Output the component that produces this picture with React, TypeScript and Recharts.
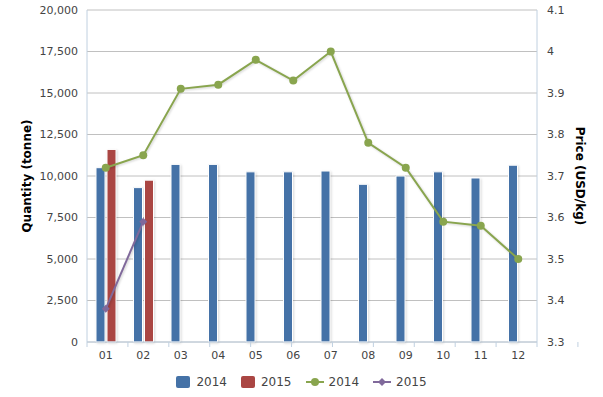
import { ComposedChart, Bar, Line, XAxis, YAxis, CartesianGrid, Legend, Label } from "recharts";

const BLUE = "#4572A7";
const RED = "#AA4643";
const GREEN = "#89A54E";
const PURPLE = "#80699B";
const GRID = "#C0C0C0";
const AXIS = "#C0D0E0";
const TEXT = "#444";
const FONT = "'DejaVu Sans', Verdana, sans-serif";

const MONTHS = ["01", "02", "03", "04", "05", "06", "07", "08", "09", "10", "11", "12"];
const QTY_2014 = [10500, 9300, 10700, 10700, 10250, 10250, 10300, 9500, 10000, 10250, 9880, 10650];
const QTY_2015 = [11600, 9750];
const PRICE_2014 = [3.72, 3.75, 3.91, 3.92, 3.98, 3.93, 4.0, 3.78, 3.72, 3.59, 3.58, 3.5];
const PRICE_2015 = [3.38, 3.59];
const QTY_TICKS = [0, 2500, 5000, 7500, 10000, 12500, 15000, 17500, 20000];
const PRICE_TICKS = [3.3, 3.4, 3.5, 3.6, 3.7, 3.8, 3.9, 4.0, 4.1];
const BOUNDS = [0, 1, 2, 3, 4, 5, 6, 7, 8, 9, 10, 11, 12];

const data = MONTHS.map((m, i) => ({
  month: m,
  q14: QTY_2014[i],
  q15: QTY_2015[i] ?? null,
  p14: PRICE_2014[i],
  p15: PRICE_2015[i] ?? null,
}));

const legendItems = [
  { name: "2014", color: BLUE, kind: "bar" },
  { name: "2015", color: RED, kind: "bar" },
  { name: "2014", color: GREEN, kind: "circle" },
  { name: "2015", color: PURPLE, kind: "diamond" },
];

function LegendContent() {
  return (
    <div style={{ display: "flex", justifyContent: "center", alignItems: "center", fontFamily: FONT, fontSize: 12, color: TEXT, height: 20 }}>
      {legendItems.map((it, i) => (
        <div key={i} style={{ display: "flex", alignItems: "center", marginRight: i < 3 ? 14 : 0 }}>
          {it.kind === "bar" ? (
            <svg width={14} height={12} style={{ marginRight: 6 }}>
              <rect x={0} y={0} width={14} height={12} rx={2} fill={it.color} />
            </svg>
          ) : (
            <svg width={18} height={12} style={{ marginRight: 5 }}>
              <line x1={0} x2={18} y1={6} y2={6} stroke={it.color} strokeWidth={2} />
              {it.kind === "circle" ? (
                <circle cx={9} cy={6} r={4} fill={it.color} />
              ) : (
                <path d="M9,2 L13,6 L9,10 L5,6 Z" fill={it.color} />
              )}
            </svg>
          )}
          <span>{it.name}</span>
        </div>
      ))}
    </div>
  );
}

function Diamond(props: any) {
  const { cx, cy, index } = props;
  if (cx == null || cy == null) return <g key={index} />;
  return <path key={index} d={`M${cx},${cy - 4} L${cx + 4},${cy} L${cx},${cy + 4} L${cx - 4},${cy} Z`} fill={PURPLE} />;
}

function AxisTitle({ viewBox, text, dx, angle }: any) {
  const x = viewBox.x + dx;
  const y = viewBox.y + viewBox.height / 2;
  return (
    <text x={x} y={y} transform={`rotate(${angle}, ${x}, ${y})`} textAnchor="middle" dominantBaseline="central"
      fontFamily={FONT} fontSize={12} fontWeight="bold" fill="#000">
      {text}
    </text>
  );
}

const tickStyle = { fontSize: 11, fill: TEXT, fontFamily: FONT };

export default function App() {
  return (
    <div style={{ position: "absolute", left: 0, top: 0, width: 603, height: 397, background: "#fff" }}>
      <style>{`
        .shadowed .recharts-line-curve { filter: drop-shadow(1px 1px 1px rgba(0,0,0,0.18)); }
        .bar-shadow .recharts-rectangle { filter: drop-shadow(1px 1px 1px rgba(0,0,0,0.15)); }
      `}</style>
      <ComposedChart width={603} height={397} data={data} margin={{ top: 10, right: 0, left: 0, bottom: 5 }} barGap={2} barSize={9}>
        <CartesianGrid yAxisId="qty" xAxisId="cat" vertical={false} stroke={GRID} />
        <XAxis xAxisId="bounds" type="number" domain={[0, 12]} ticks={BOUNDS} allowDataOverflow height={6}
          tickSize={5} tickFormatter={() => ""} axisLine={{ stroke: AXIS }} tickLine={{ stroke: AXIS }} />
        <XAxis xAxisId="cat" dataKey="month" height={24} axisLine={false} tickLine={false} tickSize={0} tickMargin={3}
          tick={tickStyle} interval={0} />
        <YAxis yAxisId="qty" orientation="left" width={87} domain={[0, 20000]} ticks={QTY_TICKS} axisLine={{ stroke: AXIS }}
          tickLine={false} tickSize={0} tickMargin={9} tick={tickStyle} tickFormatter={(v) => v.toLocaleString("en-US")}>
          <Label content={(p: any) => <AxisTitle {...p} text="Quantity (tonne)" dx={27} angle={-90} />} />
        </YAxis>
        <YAxis yAxisId="price" orientation="right" width={66} domain={[3.3, 4.1]} ticks={PRICE_TICKS} axisLine={{ stroke: AXIS }}
          tickLine={false} tickSize={0} tickMargin={10} tick={{ ...tickStyle, textAnchor: "start" }} tickFormatter={(v) => String(v)}>
          <Label content={(p: any) => <AxisTitle {...p} text="Price (USD/kg)" dx={43} angle={90} />} />
        </YAxis>
        <Legend verticalAlign="bottom" content={() => <LegendContent />} />
        <Bar className="bar-shadow" xAxisId="cat" yAxisId="qty" dataKey="q14" name="2014" fill={BLUE} stroke="#fff" strokeWidth={1} isAnimationActive={false} />
        <Bar className="bar-shadow" xAxisId="cat" yAxisId="qty" dataKey="q15" name="2015" fill={RED} stroke="#fff" strokeWidth={1} isAnimationActive={false} />
        <Line className="shadowed" xAxisId="cat" yAxisId="price" dataKey="p14" name="2014" stroke={GREEN} strokeWidth={2}
          dot={{ r: 4, fill: GREEN, stroke: GREEN, strokeWidth: 0 }} activeDot={false} isAnimationActive={false} />
        <Line className="shadowed" xAxisId="cat" yAxisId="price" dataKey="p15" name="2015" stroke={PURPLE} strokeWidth={2}
          dot={<Diamond />} activeDot={false} isAnimationActive={false} />
      </ComposedChart>
    </div>
  );
}
